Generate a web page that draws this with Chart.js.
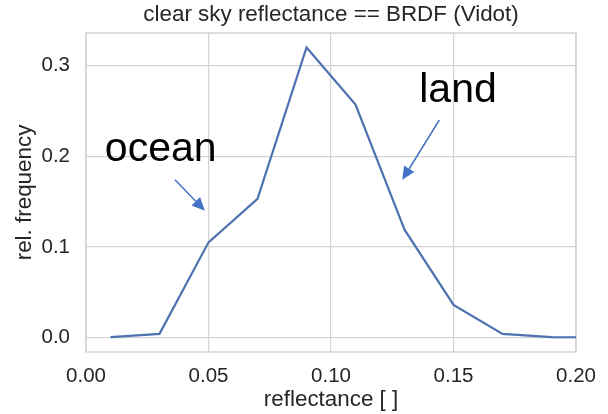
<!DOCTYPE html>
<html>
<head>
<meta charset="utf-8">
<script src="https://cdn.jsdelivr.net/npm/chart.js@4.4.1/dist/chart.umd.min.js"></script>
<style>
  html, body { margin: 0; padding: 0; background: #ffffff; }
  #box { width: 608px; height: 414px; }
</style>
</head>
<body>
<div id="box"><canvas id="chart"></canvas></div>
<script>
// histogram bin centres and relative frequencies
const reflectance = [0.01, 0.03, 0.05, 0.07, 0.09, 0.11, 0.13, 0.15, 0.17, 0.19, 0.21];
const relFrequency = [0.0005, 0.004, 0.105, 0.153, 0.320, 0.257, 0.119, 0.036, 0.004, 0.0005, 0.0];

const xTicks = [0.00, 0.05, 0.10, 0.15, 0.20];
const yTicks = [0.0, 0.1, 0.2, 0.3];

const titleText = 'clear sky reflectance == BRDF (Vidot)';

// callouts: label, text anchor, arrow tail, arrow head (data units)
const noteText = ['ocean', 'land'];
const noteAt = [[0.0077, 0.195], [0.136, 0.260]];
const arrowFrom = [[0.0363, 0.174], [0.1442, 0.240]];
const arrowTo = [[0.0485, 0.140], [0.1291, 0.174]];

const FONT = '"Liberation Sans", Arial, sans-serif';
const INK = '#262626';
const GRID = '#d3d3d3';

// box around the plot area
const frame = {
  id: 'frame',
  beforeDatasetsDraw(chart) {
    const {ctx, chartArea: a} = chart;
    ctx.save();
    ctx.strokeStyle = GRID;
    ctx.lineWidth = 1.5;
    ctx.strokeRect(a.left, a.top, a.right - a.left, a.bottom - a.top);
    ctx.restore();
  }
};

// title centred over the axes, not the canvas
const axesTitle = {
  id: 'axesTitle',
  afterDraw(chart) {
    const {ctx, chartArea: a} = chart;
    ctx.save();
    ctx.font = '22.4px ' + FONT;
    ctx.fillStyle = INK;
    ctx.textAlign = 'center';
    ctx.textBaseline = 'middle';
    ctx.fillText(titleText, (a.left + a.right) / 2, a.top - 18);
    ctx.restore();
  }
};

const callouts = {
  id: 'callouts',
  afterDraw(chart) {
    const {ctx} = chart;
    const xs = chart.scales.x, ys = chart.scales.y;
    ctx.save();
    ctx.font = '41px ' + FONT;
    ctx.fillStyle = '#000000';
    ctx.textBaseline = 'alphabetic';
    noteText.forEach((t, i) => {
      ctx.fillText(t, xs.getPixelForValue(noteAt[i][0]), ys.getPixelForValue(noteAt[i][1]));
    });
    ctx.strokeStyle = '#4472c4';
    ctx.fillStyle = '#4472c4';
    ctx.lineWidth = 1.5;
    arrowFrom.forEach((f, i) => {
      const x0 = xs.getPixelForValue(f[0]), y0 = ys.getPixelForValue(f[1]);
      const x1 = xs.getPixelForValue(arrowTo[i][0]), y1 = ys.getPixelForValue(arrowTo[i][1]);
      const ang = Math.atan2(y1 - y0, x1 - x0);
      const len = 13, half = 6;
      const bx = x1 - len * Math.cos(ang), by = y1 - len * Math.sin(ang);
      ctx.beginPath();
      ctx.moveTo(x0, y0);
      ctx.lineTo(bx, by);
      ctx.stroke();
      ctx.beginPath();
      ctx.moveTo(x1, y1);
      ctx.lineTo(bx + half * Math.sin(ang), by - half * Math.cos(ang));
      ctx.lineTo(bx - half * Math.sin(ang), by + half * Math.cos(ang));
      ctx.closePath();
      ctx.fill();
    });
    ctx.restore();
  }
};

const ctx = document.getElementById('chart').getContext('2d');
new Chart(ctx, {
  type: 'line',
  data: {
    datasets: [{
      data: reflectance.map((r, i) => ({x: r, y: relFrequency[i]})),
      borderColor: '#4c72b0',
      borderWidth: 2.2,
      pointRadius: 0,
      tension: 0,
      fill: false
    }]
  },
  options: {
    responsive: true,
    maintainAspectRatio: false,
    animation: false,
    layout: { padding: { top: 33, right: 31 } },
    plugins: {
      legend: { display: false },
      tooltip: { enabled: false },
      title: { display: false }
    },
    scales: {
      x: {
        type: 'linear',
        min: 0,
        max: 0.2,
        afterBuildTicks: s => { s.ticks = xTicks.map(v => ({value: v})); },
        afterFit: s => { s.height = 62; },
        grid: { color: GRID, lineWidth: 1.2, drawTicks: false },
        border: { display: false },
        ticks: {
          color: INK,
          padding: 12,
          maxRotation: 0,
          font: { family: FONT, size: 20.5 },
          callback: v => v.toFixed(2)
        },
        title: {
          display: true,
          text: 'reflectance [ ]',
          color: INK,
          font: { family: FONT, size: 22.4 },
          padding: { top: 0, bottom: 1 }
        }
      },
      y: {
        min: -0.016,
        max: 0.336,
        afterBuildTicks: s => { s.ticks = yTicks.map(v => ({value: v})); },
        afterFit: s => { s.width = 86; },
        grid: { color: GRID, lineWidth: 1.2, drawTicks: false },
        border: { display: false },
        ticks: {
          color: INK,
          padding: 16,
          font: { family: FONT, size: 20.5 },
          callback: v => v.toFixed(1)
        },
        title: {
          display: true,
          text: 'rel. frequency',
          color: INK,
          font: { family: FONT, size: 22.4 },
          padding: { top: 11, bottom: 0 }
        }
      }
    }
  },
  plugins: [frame, axesTitle, callouts]
});
</script>
</body>
</html>
